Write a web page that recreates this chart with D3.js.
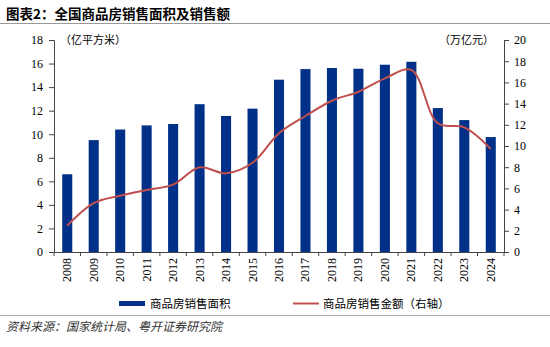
<!DOCTYPE html>
<html><head><meta charset="utf-8">
<script src="https://cdn.jsdelivr.net/npm/d3@7"></script>
<style>
body{margin:0;background:#fff;}
svg{display:block;}
</style></head>
<body>
<svg id="chart" width="550" height="347"></svg>
<script>
const years = ["2008","2009","2010","2011","2012","2013","2014","2015","2016","2017","2018","2019","2020","2021","2022","2023","2024"];
const area = [6.6,9.5,10.4,10.75,10.87,12.55,11.55,12.17,14.63,15.53,15.62,15.56,15.9,16.15,12.22,11.2,9.76];
const amount = [2.48,4.6,5.31,5.85,6.35,7.99,7.42,8.42,11.2,12.83,14.27,15.12,16.38,17.17,12.14,11.76,9.72];
const leftTicks = [0,2,4,6,8,10,12,14,16,18];
const rightTicks = [0,2,4,6,8,10,12,14,16,18,20];
const titleText = "图表2：全国商品房销售面积及销售额";
const leftUnit = "（亿平方米）";
const rightUnit = "（万亿元）";
const legendNames = ["商品房销售面积","商品房销售金额（右轴）"];
const sourceText = "资料来源：国家统计局、粤开证券研究院";

const svg = d3.select("#chart");
const L = 54, R = 504, T = 40, B = 252;
const barColor = "#003087", lineColor = "#C0504D";
const serif = "'Liberation Serif','Times New Roman',serif";
const cjk = "'Noto Sans CJK SC',sans-serif";

const x = d3.scaleBand().domain(years).range([L, R]).paddingInner(0.62).paddingOuter(0.31);
const yL = d3.scaleLinear().domain([0,18]).range([B, T]);
const yR = d3.scaleLinear().domain([0,20]).range([B, T]);

// title
svg.append("text").attr("x",6).attr("y",19).attr("font-family",cjk).attr("font-weight","bold")
  .attr("font-size",13.5).attr("fill","#000").text(titleText);
svg.append("line").attr("x1",0).attr("x2",550).attr("y1",23.5).attr("y2",23.5).attr("stroke","#999").attr("stroke-width",1);

// bars
svg.append("g").selectAll("rect").data(years).join("rect")
  .attr("x", d => x(d)).attr("width", x.bandwidth())
  .attr("y", (d,i) => yL(area[i])).attr("height", (d,i) => B - yL(area[i]))
  .attr("fill", barColor);

// line
const line = d3.line().x((d,i) => x(years[i]) + x.bandwidth()/2).y(d => yR(d)).curve(d3.curveCatmullRom.alpha(0.5));
svg.append("path").datum(amount).attr("d", line).attr("fill","none").attr("stroke",lineColor).attr("stroke-width",2);

// axes
const axL = d3.axisLeft(yL).tickValues(leftTicks).tickSize(5).tickPadding(6);
const gL = svg.append("g").attr("transform",`translate(${L},0)`).call(axL);
const axR = d3.axisRight(yR).tickValues(rightTicks).tickSize(5).tickPadding(5);
const gR = svg.append("g").attr("transform",`translate(${R},0)`).call(axR);
[gL,gR].forEach(g=>{
  g.attr("font-family",serif).attr("font-size",12);
  g.selectAll("text").attr("fill","#000");
  g.select(".domain").attr("stroke","#444");
  g.selectAll(".tick line").attr("stroke","#444");
});

// x axis: ticks between categories
const gX = svg.append("g");
gX.append("line").attr("x1",L).attr("x2",R).attr("y1",B+0.5).attr("y2",B+0.5).attr("stroke","#444");
const bounds = d3.range(years.length+1).map(i => L + i*(R-L)/years.length);
gX.selectAll("line.t").data(bounds).join("line").attr("class","t")
  .attr("x1",d=>d).attr("x2",d=>d).attr("y1",B).attr("y2",B+4).attr("stroke","#444");
gX.selectAll("text").data(years).join("text")
  .attr("transform", d => `translate(${x(d)+x.bandwidth()/2+4},${B+6}) rotate(-90)`)
  .attr("text-anchor","end").attr("font-family",serif).attr("font-size",12).attr("fill","#000").text(d=>d);

// units
svg.append("text").attr("x",60).attr("y",44).attr("font-family",cjk).attr("font-size",11).attr("fill","#000").text(leftUnit);
svg.append("text").attr("x",494).attr("y",44).attr("text-anchor","end").attr("font-family",cjk).attr("font-size",11).attr("fill","#000").text(rightUnit);

// legend
svg.append("rect").attr("x",119).attr("y",301).attr("width",26).attr("height",5).attr("fill",barColor);
svg.append("text").attr("x",150).attr("y",307.5).attr("font-family",cjk).attr("font-size",11.5).attr("fill","#000").text(legendNames[0]);
svg.append("line").attr("x1",293).attr("x2",319).attr("y1",303.5).attr("y2",303.5).attr("stroke",lineColor).attr("stroke-width",2);
svg.append("text").attr("x",323).attr("y",307.5).attr("font-family",cjk).attr("font-size",11.5).attr("fill","#000").text(legendNames[1]);

// footer
svg.append("line").attr("x1",0).attr("x2",550).attr("y1",315.5).attr("y2",315.5).attr("stroke","#aaa");
svg.append("text").attr("x",6).attr("y",331).attr("font-family",cjk).attr("font-style","italic").attr("font-size",12).attr("fill","#333").text(sourceText);
</script>
</body></html>
